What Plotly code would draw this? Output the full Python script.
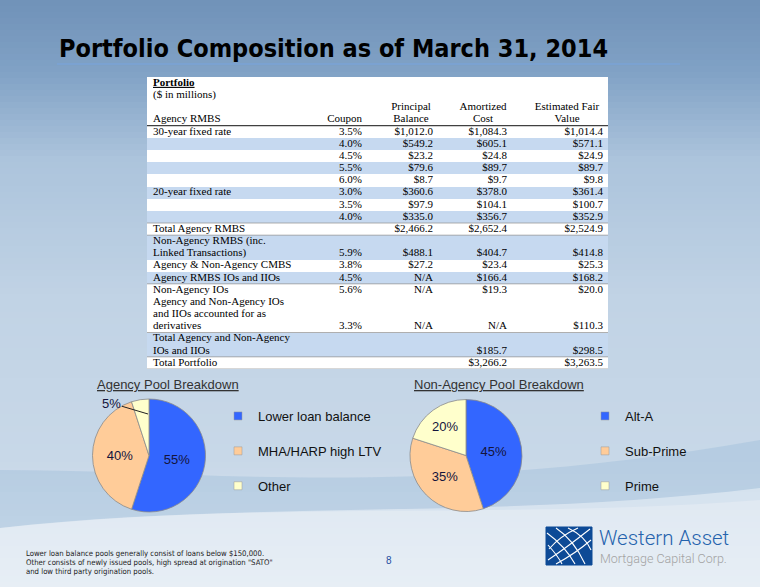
import plotly.graph_objects as go

W, H = 760, 587

# ---------------- data ----------------
row_labels = [
    "30-year fixed rate", "", "", "", "",
    "20-year fixed rate", "", "",
    "Total Agency RMBS",
    "Non-Agency RMBS (inc.\nLinked Transactions)",
    "Agency & Non-Agency CMBS",
    "Agency RMBS IOs and IIOs",
    "Non-Agency IOs",
    "Agency and Non-Agency IOs\nand IIOs accounted for as\nderivatives",
    "Total Agency and Non-Agency\nIOs and IIOs",
    "Total Portfolio",
]
coupon = [3.5, 4.0, 4.5, 5.5, 6.0, 3.0, 3.5, 4.0, None, 5.9, 3.8, 4.5, 5.6, 3.3, None, None]
principal = [1012.0, 549.2, 23.2, 79.6, 8.7, 360.6, 97.9, 335.0, 2466.2, 488.1, 27.2,
             "N/A", "N/A", "N/A", None, None]
amortized = [1084.3, 605.1, 24.8, 89.7, 9.7, 378.0, 104.1, 356.7, 2652.4, 404.7, 23.4,
             166.4, 19.3, "N/A", 185.7, 3266.2]
fair_value = [1014.4, 571.1, 24.9, 89.7, 9.8, 361.4, 100.7, 352.9, 2524.9, 414.8, 25.3,
              168.2, 20.0, 110.3, 298.5, 3263.5]
shaded = [0, 1, 0, 1, 0, 1, 0, 1, 0, 1, 0, 1, 0, 0, 1, 0]

table_title = "Portfolio"
table_subtitle = "($ in millions)"
column_titles_1 = ["", "", "Principal", "Amortized", "Estimated Fair"]
column_titles_2 = ["Agency RMBS", "Coupon", "Balance", "Cost", "Value"]

agency_labels = ["Lower loan balance", "MHA/HARP high LTV", "Other"]
agency_values = [55, 40, 5]
nonagency_labels = ["Alt-A", "Sub-Prime", "Prime"]
nonagency_values = [45, 35, 20]
pie_colors = ["#3366ff", "#ffcc99", "#ffffcc"]

footer_lines = [
    "Lower loan balance pools generally consist of loans below $150,000.",
    "Other consists of newly issued pools, high spread at origination \"SATO\"",
    "and low third party origination pools.",
]

# ---------------- styling ----------------
SERIF = "Liberation Serif, Times New Roman, serif"
SANS = "Liberation Sans, Arial, sans-serif"
NARROW = "Liberation Sans Narrow, Arial Narrow, DejaVu Sans Condensed, sans-serif"
BLUE_ROW = "#c6d9f0"


def money(v):
    if v is None:
        return ""
    if isinstance(v, str):
        return v
    return f"${v:,.1f}"


def pct(v):
    return "" if v is None else f"{v:.1f}%"


# ---- assemble table rows (one line of text per row) ----
header_rows = [
    ["<b><u>" + table_title + "</u></b>", "", "", "", ""],
    [table_subtitle, "", "", "", ""],
    column_titles_1,
    column_titles_2,
]
N_HDR = len(header_rows)
cols = [[r[c] for r in header_rows] for c in range(5)]
row_shade = [0] * N_HDR
row_start = []
for i, lab in enumerate(row_labels):
    lines = lab.split("\n")
    row_start.append(len(row_shade))
    for j, ln in enumerate(lines):
        last = j == len(lines) - 1
        vals = [ln,
                pct(coupon[i]) if last else "",
                money(principal[i]) if last else "",
                money(amortized[i]) if last else "",
                money(fair_value[i]) if last else ""]
        for c in range(5):
            cols[c].append(vals[c])
        row_shade.append(shaded[i])
N = len(row_shade)

# table geometry (pixels) and column anchors (pixels from table's left edge)
T_L, T_R, T_T, T_B = 147, 608, 77, 369
TW = T_R - T_L
col_left_anchor = 6
col_right = [None, 215, 286, 360, 456]
col_center = [None, 215, 264, 336, 420]

fig = go.Figure()

# cell shading (heatmap of row fills)
fig.add_trace(go.Heatmap(
    z=[[s] for s in row_shade], x=[0, TW], y=[k - 0.5 for k in range(N + 1)],
    colorscale=[[0, "#ffffff"], [1, BLUE_ROW]], zmin=0, zmax=1, showscale=False,
    hoverinfo="skip", xaxis="x2", yaxis="y2",
))

# cell text
rows_idx = list(range(N))
fig.add_trace(go.Scatter(
    x=[col_left_anchor] * N, y=rows_idx, text=cols[0], mode="text",
    textposition="middle right", textfont=dict(family=SERIF, size=11, color="#000"),
    xaxis="x2", yaxis="y2", showlegend=False, hoverinfo="skip", cliponaxis=False,
))
for c in range(1, 5):
    xs, pos = [], []
    for k in range(N):
        if k < N_HDR and c >= 2:
            xs.append(col_center[c]); pos.append("middle center")
        else:
            xs.append(col_right[c]); pos.append("middle left")
    fig.add_trace(go.Scatter(
        x=xs, y=rows_idx, text=cols[c], mode="text", textposition=pos,
        textfont=dict(family=SERIF, size=11, color="#000"),
        xaxis="x2", yaxis="y2", showlegend=False, hoverinfo="skip", cliponaxis=False,
    ))

# pies
fig.add_trace(go.Pie(
    labels=agency_labels, values=agency_values, sort=False, direction="clockwise",
    rotation=0, domain=dict(x=[92 / W, 206 / W], y=[1 - 512 / H, 1 - 399 / H]),
    marker=dict(colors=pie_colors, line=dict(color="#8a8a8a", width=0.8)),
    texttemplate="%{value}%", textposition=["inside", "inside", "none"],
    insidetextorientation="horizontal",
    textfont=dict(family=SANS, size=13, color="#14143c"),
    showlegend=False, hoverinfo="label+percent",
))
fig.add_trace(go.Pie(
    labels=nonagency_labels, values=nonagency_values, sort=False, direction="clockwise",
    rotation=0, domain=dict(x=[410 / W, 522 / W], y=[1 - 512 / H, 1 - 399 / H]),
    marker=dict(colors=pie_colors, line=dict(color="#8a8a8a", width=0.8)),
    texttemplate="%{value}%", textposition="inside",
    insidetextorientation="horizontal",
    textfont=dict(family=SANS, size=13, color="#14143c"),
    showlegend=False, hoverinfo="label+percent",
))

# legend entries
for labels, leg in ((agency_labels, "legend"), (nonagency_labels, "legend2")):
    for lab, col in zip(labels, pie_colors):
        fig.add_trace(go.Scatter(
            x=[None], y=[None], mode="markers", name=lab, legend=leg, legendgroup=lab,
            marker=dict(symbol="square", size=8, color=col, line=dict(color="#9a9a9a", width=0.5)),
        ))

# ---------------- background ----------------
shapes = []
stops = [(0, (112, 146, 184)), (70, (128, 161, 197)), (160, (172, 196, 220)),
         (300, (193, 211, 229)), (460, (200, 216, 232)), (587, (224, 233, 242))]


def grad(y):
    for (y0, c0), (y1, c1) in zip(stops[:-1], stops[1:]):
        if y0 <= y <= y1:
            t = (y - y0) / (y1 - y0)
            return tuple(int(round(a + (b - a) * t)) for a, b in zip(c0, c1))
    return stops[-1][1]


step = 6
for y in range(0, H, step):
    c = grad(y + step / 2)
    shapes.append(dict(type="rect", xref="x", yref="y", x0=0, x1=W, y0=y, y1=y + step + 1,
                       fillcolor=f"rgb{c}", line=dict(width=0), layer="below"))
shapes.append(dict(type="path", xref="x", yref="y", layer="below",
                   path="M0,470 C200,470 420,500 760,440 L760,500 C500,520 250,500 0,528 Z",
                   fillcolor="rgba(150,182,214,0.35)", line=dict(width=0)))
shapes.append(dict(type="path", xref="x", yref="y", layer="below",
                   path="M0,528 C250,500 500,520 760,488 L760,587 L0,587 Z",
                   fillcolor="rgba(236,242,248,0.55)", line=dict(width=0)))

# title underline
shapes.append(dict(type="line", xref="x", yref="y", x0=57, x1=680, y0=64, y1=64,
                   line=dict(color="#7ba3d6", width=1.5)))

# table separator lines (row boundaries)
sep = [(N_HDR - 0.5, "#404040", 1.2)]
for i in (8, 9, 12, 14, 15):
    sep.append((row_start[i] - 0.5, "#9a9a9a", 0.8))
sep.append((N - 0.5, "#9a9a9a", 0.8))
for y, c, w in sep:
    shapes.append(dict(type="line", xref="x2", yref="y2", x0=0, x1=TW, y0=y, y1=y,
                       line=dict(color=c, width=w), layer="above"))

# logo square with globe grid
shapes.append(dict(type="rect", xref="x", yref="y", x0=546, x1=592, y0=527, y1=565,
                   fillcolor="#0d4a96", line=dict(color="#0d4a96", width=1)))
globe_paths = [
    "M548,560 Q566,548 590,529",
    "M549,549 Q560,536 578,528",
    "M556,564 Q576,553 591,540",
    "M547,533 Q565,546 575,564",
    "M556,528 Q574,540 585,564",
    "M548,545 Q558,556 562,564",
    "M568,528 Q585,536 591,550",
]
for p in globe_paths:
    shapes.append(dict(type="path", xref="x", yref="y", path=p,
                       line=dict(color="#ffffff", width=1.1)))

# ---------------- annotations ----------------
ann = []
ann.append(dict(x=57, y=48, xref="x", yref="y", xanchor="left", yanchor="middle",
                text="Portfolio Composition as of March 31, 2014", showarrow=False,
                font=dict(family=NARROW, size=25, color="#000", weight="bold")))
ann.append(dict(x=95, y=384, xref="x", yref="y", xanchor="left", yanchor="middle",
                text="<u>Agency Pool Breakdown</u>", showarrow=False,
                font=dict(family=SANS, size=13, color="#333")))
ann.append(dict(x=412, y=384, xref="x", yref="y", xanchor="left", yanchor="middle",
                text="<u>Non-Agency Pool Breakdown</u>", showarrow=False,
                font=dict(family=SANS, size=13, color="#333")))
ann.append(dict(x=148, y=414, xref="x", yref="y", ax=-37, ay=-11,
                text=f"{agency_values[2]}%", showarrow=True, arrowhead=0, arrowwidth=1,
                arrowcolor="#222", font=dict(family=SANS, size=13, color="#14143c")))
for k, line in enumerate(footer_lines):
    ann.append(dict(x=24, y=553 + 9 * k, xref="x", yref="y", xanchor="left", yanchor="middle",
                    text=line, showarrow=False,
                    font=dict(family=NARROW, size=7.7, color="#222")))
ann.append(dict(x=389, y=560, xref="x", yref="y", text="8", showarrow=False,
                font=dict(family=SANS, size=10, color="#1f4fa0")))
ann.append(dict(x=597, y=538, xref="x", yref="y", xanchor="left", yanchor="middle",
                text="Western Asset", showarrow=False,
                font=dict(family="Roboto, " + NARROW, size=20.5, color="#2563ad", weight=300)))
ann.append(dict(x=598, y=558, xref="x", yref="y", xanchor="left", yanchor="middle",
                text="Mortgage Capital Corp.", showarrow=False,
                font=dict(family="Roboto, " + NARROW, size=12.5, color="#a3a3a3", weight=300)))

fig.update_layout(
    width=W, height=H, margin=dict(l=0, r=0, t=0, b=0),
    paper_bgcolor="#c8d8e8", plot_bgcolor="rgba(0,0,0,0)",
    xaxis=dict(range=[0, W], visible=False, domain=[0, 1], fixedrange=True),
    yaxis=dict(range=[H, 0], visible=False, domain=[0, 1], fixedrange=True),
    xaxis2=dict(range=[0, TW], visible=False, domain=[T_L / W, T_R / W], fixedrange=True,
                anchor="y2"),
    yaxis2=dict(range=[N - 0.5, -0.5], visible=False, domain=[1 - T_B / H, 1 - T_T / H],
                fixedrange=True, anchor="x2"),
    shapes=shapes, annotations=ann,
    legend=dict(x=218 / W, y=1 - 401 / H, xanchor="left", yanchor="top",
                bgcolor="rgba(0,0,0,0)", tracegroupgap=15,
                font=dict(family=SANS, size=13, color="#111")),
    legend2=dict(x=585 / W, y=1 - 401 / H, xanchor="left", yanchor="top",
                 bgcolor="rgba(0,0,0,0)", tracegroupgap=15,
                 font=dict(family=SANS, size=13, color="#111")),
    showlegend=True,
)

fig.write_html("out.html", config={"displayModeBar": False},
               post_script="document.body.style.margin='0px';")
